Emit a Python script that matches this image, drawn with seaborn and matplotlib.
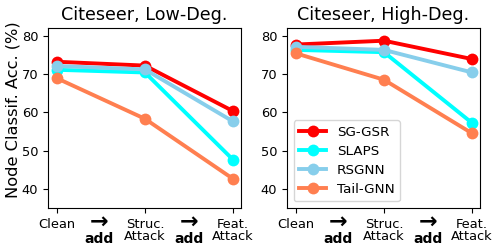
import pandas as pd
import matplotlib
matplotlib.use("Agg")
import matplotlib.pyplot as plt
import seaborn as sns

stages = ["Clean", "Struc.\nAttack", "Feat.\nAttack"]
methods = ["SG-GSR", "SLAPS", "RSGNN", "Tail-GNN"]
colors = ["red", "cyan", "skyblue", "coral"]

low_deg = {
    "SG-GSR": [73.2, 72.2, 60.3],
    "SLAPS": [71.1, 70.4, 47.6],
    "RSGNN": [72.1, 71.2, 57.6],
    "Tail-GNN": [68.9, 58.3, 42.6],
}
high_deg = {
    "SG-GSR": [77.7, 78.7, 73.9],
    "SLAPS": [76.3, 75.7, 57.2],
    "RSGNN": [77.1, 76.3, 70.4],
    "Tail-GNN": [75.4, 68.5, 54.5],
}


def to_df(d):
    rows = []
    for m in methods:
        for i, v in enumerate(d[m]):
            rows.append({"method": m, "stage": i, "acc": v})
    return pd.DataFrame(rows)


fig = plt.figure(figsize=(4.99, 2.52), dpi=100)
ax1 = fig.add_axes([0.0962, 0.1746, 0.3868, 0.714])
ax2 = fig.add_axes([0.5752, 0.1746, 0.3868, 0.714])

pal = dict(zip(methods, colors))
for ax, d, title in [(ax1, low_deg, "Citeseer, Low-Deg."),
                     (ax2, high_deg, "Citeseer, High-Deg.")]:
    sns.lineplot(data=to_df(d), x="stage", y="acc", hue="method", palette=pal,
                 marker="o", markersize=8.5, markeredgewidth=0, linewidth=2.8, ax=ax)
    ax.set_xlim(-0.1, 2.09)
    ax.set_ylim(35, 82)
    ax.set_xticks([0, 1, 2])
    ax.set_xticklabels(stages, fontsize=9.4, linespacing=0.92)
    ax.set_yticks([40, 50, 60, 70, 80])
    ax.tick_params(axis="y", labelsize=9.4)
    ax.set_title(title, fontsize=12.6)
    ax.set_xlabel("")
    ax.set_ylabel("")
    for xa in [0.48, 1.5]:
        ax.text(xa, -0.075, "\u2192", transform=ax.get_xaxis_transform(),
                ha="center", va="center", fontsize=16, fontweight="bold")
        ax.text(xa, -0.172, "add", transform=ax.get_xaxis_transform(),
                ha="center", va="center", fontsize=10, fontweight="bold")

ax1.set_ylabel("Node Classif. Acc. (%)", fontsize=11.7)
ax1.yaxis.set_label_coords(-0.14, 0.544)
ax1.get_legend().remove()
ax2.legend(loc="lower left", fontsize=9.7, title=None, labelspacing=0.45)

fig.savefig("out.png", dpi=100)
